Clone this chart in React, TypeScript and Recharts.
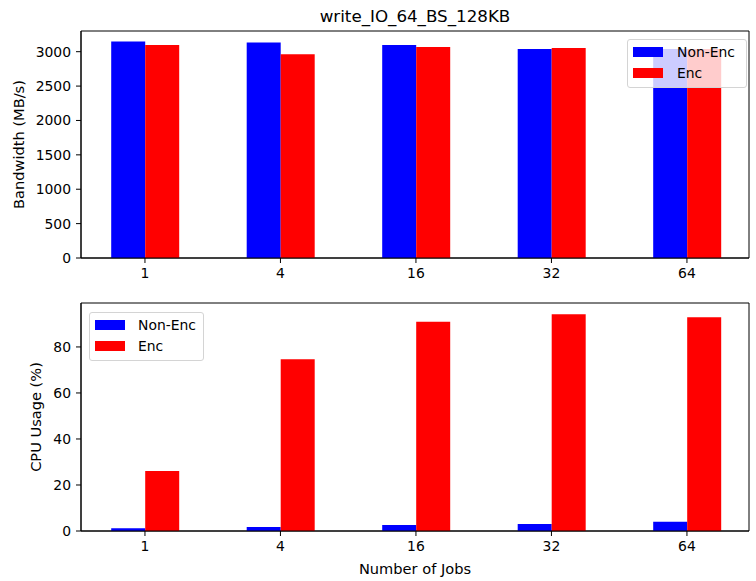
import React from "react";
import { BarChart, Bar, XAxis, YAxis, Legend, ReferenceArea } from "recharts";

const jobs = ["1", "4", "16", "32", "64"];
const bwNonEnc = [3150, 3135, 3097, 3038, 3038];
const bwEnc = [3097, 2962, 3068, 3052, 3040];
const cpuNonEnc = [1.2, 1.7, 2.6, 3.0, 4.0];
const cpuEnc = [26.1, 74.6, 91.0, 94.2, 92.9];
const bwTicks = [0, 500, 1000, 1500, 2000, 2500, 3000];
const cpuTicks = [0, 20, 40, 60, 80];

const topData = jobs.map((j, i) => ({ x: i, nonEnc: bwNonEnc[i], enc: bwEnc[i] }));
const botData = jobs.map((j, i) => ({ x: i, nonEnc: cpuNonEnc[i], enc: cpuEnc[i] }));

const FONT = "'DejaVu Sans', sans-serif";
const X_DOMAIN: [number, number] = [-0.472, 4.458];
const tickStyle = { fontSize: 13.9, fill: "#000", fontFamily: FONT };
const labelStyle = { fontSize: 14.6, fill: "#000", fontFamily: FONT };

function LegendBox({ w, patchX, textX }: { w: number; patchX: number; textX: number }) {
  const rows = [
    { label: "Non-Enc", color: "#0000ff", cy: 12 },
    { label: "Enc", color: "#ff0000", cy: 33 },
  ];
  return (
    <div
      style={{
        position: "relative", width: w, height: 49, boxSizing: "border-box",
        background: "rgba(255,255,255,0.8)", border: "1px solid #d4d4d4", borderRadius: 3,
        fontFamily: FONT, fontSize: 13.9, color: "#000",
      }}
    >
      {rows.map((r) => (
        <React.Fragment key={r.label}>
          <div style={{ position: "absolute", left: patchX, top: r.cy - 5, width: 30, height: 10, background: r.color }} />
          <div style={{ position: "absolute", left: textX, top: r.cy - 9, lineHeight: "18px", whiteSpace: "nowrap" }}>{r.label}</div>
        </React.Fragment>
      ))}
    </div>
  );
}

export default function App() {
  return (
    <div style={{ position: "absolute", left: 0, top: 0, width: 756, height: 581, background: "#fff", fontFamily: FONT }}>
      <div style={{ position: "absolute", left: 81, width: 668, top: 5, textAlign: "center", fontSize: 16.7, lineHeight: "22px", color: "#000" }}>
        write_IO_64_BS_128KB
      </div>

      <div style={{ position: "absolute", left: 0, top: 0 }}>
        <BarChart width={756} height={290} data={topData} margin={{ top: 31, right: 7, bottom: 0, left: 0 }} barGap={0}>
          <XAxis
            type="number" dataKey="x" domain={X_DOMAIN} allowDataOverflow ticks={[0, 1, 2, 3, 4]}
            tickFormatter={(v: number) => jobs[v]} height={32} tickSize={5} tickMargin={5}
            tick={tickStyle} axisLine={{ stroke: "#000" }} tickLine={{ stroke: "#000" }}
          />
          <YAxis
            domain={[0, 3301]} allowDataOverflow ticks={bwTicks} width={81} tickSize={5} tickMargin={5}
            tick={tickStyle} axisLine={{ stroke: "#000" }} tickLine={{ stroke: "#000" }}
            label={{ value: "Bandwidth (MB/s)", angle: -90, position: "center", dx: -22, style: labelStyle }}
          />
          <Bar dataKey="nonEnc" name="Non-Enc" fill="#0000ff" barSize={34} isAnimationActive={false} />
          <Bar dataKey="enc" name="Enc" fill="#ff0000" barSize={34} isAnimationActive={false} />
          <ReferenceArea x1={X_DOMAIN[0]} x2={X_DOMAIN[1]} y1={0} y2={3301} fill="none" stroke="#000" strokeWidth={1} fillOpacity={0} />
          <Legend
            layout="horizontal" verticalAlign="middle" align="center"
            wrapperStyle={{ left: 627, top: 39, width: 120, height: 49 }}
            content={() => <LegendBox w={120} patchX={5} textX={49} />}
          />
        </BarChart>
      </div>

      <div style={{ position: "absolute", left: 0, top: 290 }}>
        <BarChart width={756} height={291} data={botData} margin={{ top: 13, right: 7, bottom: 0, left: 0 }} barGap={0}>
          <XAxis
            type="number" dataKey="x" domain={X_DOMAIN} allowDataOverflow ticks={[0, 1, 2, 3, 4]}
            tickFormatter={(v: number) => jobs[v]} height={50} tickSize={5} tickMargin={5}
            tick={tickStyle} axisLine={{ stroke: "#000" }} tickLine={{ stroke: "#000" }}
            label={{ value: "Number of Jobs", position: "insideBottom", offset: 7, style: labelStyle }}
          />
          <YAxis
            domain={[0, 99.1]} allowDataOverflow ticks={cpuTicks} width={81} tickSize={5} tickMargin={5}
            tick={tickStyle} axisLine={{ stroke: "#000" }} tickLine={{ stroke: "#000" }}
            label={{ value: "CPU Usage (%)", angle: -90, position: "center", dx: -5, style: labelStyle }}
          />
          <Bar dataKey="nonEnc" name="Non-Enc" fill="#0000ff" barSize={34} isAnimationActive={false} />
          <Bar dataKey="enc" name="Enc" fill="#ff0000" barSize={34} isAnimationActive={false} />
          <ReferenceArea x1={X_DOMAIN[0]} x2={X_DOMAIN[1]} y1={0} y2={99.1} fill="none" stroke="#000" strokeWidth={1} fillOpacity={0} />
          <Legend
            layout="horizontal" verticalAlign="middle" align="center"
            wrapperStyle={{ left: 89, top: 22, width: 115, height: 49 }}
            content={() => <LegendBox w={115} patchX={5} textX={48} />}
          />
        </BarChart>
      </div>
    </div>
  );
}
